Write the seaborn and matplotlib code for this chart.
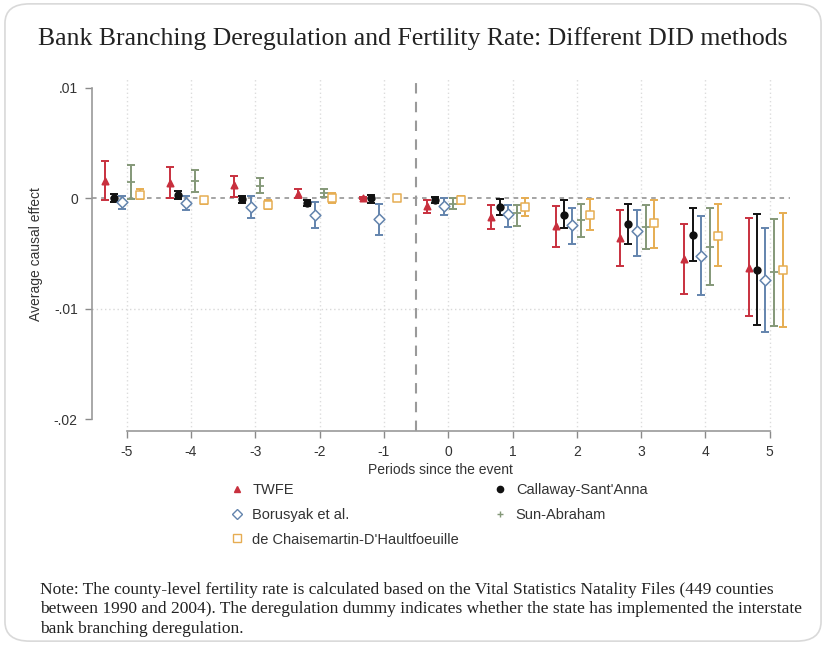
import numpy as np
import pandas as pd
import seaborn as sns
import matplotlib.pyplot as plt
from matplotlib.lines import Line2D
from matplotlib.patches import FancyBboxPatch

# event-time periods
periods = [-5, -4, -3, -2, -1, 0, 1, 2, 3, 4, 5]

# point estimates and 95% CI bounds
twfe_est = [0.0016, 0.0014, 0.0012, 0.0004, 0.0000, -0.0007, -0.0017, -0.0025, -0.0036, -0.0055, -0.0063]
twfe_lo = [-0.0002, 0.0000, 0.0001, 0.0000, -0.0001, -0.0013, -0.0028, -0.0044, -0.0061, -0.0087, -0.0107]
twfe_hi = [0.0034, 0.0028, 0.0020, 0.0008, 0.0001, -0.0002, -0.0006, -0.0007, -0.0011, -0.0023, -0.0018]

cs_est = [0.0000, 0.0003, -0.0001, -0.0004, 0.0000, -0.0002, -0.0008, -0.0015, -0.0023, -0.0033, -0.0065]
cs_lo = [-0.0003, -0.0001, -0.0004, -0.0007, -0.0004, -0.0004, -0.0015, -0.0027, -0.0041, -0.0057, -0.0115]
cs_hi = [0.0004, 0.0007, 0.0002, -0.0002, 0.0003, 0.0001, -0.0001, -0.0002, -0.0005, -0.0009, -0.0014]

bjs_est = [-0.0003, -0.0004, -0.0008, -0.0015, -0.0019, -0.0007, -0.0014, -0.0024, -0.0030, -0.0052, -0.0074]
bjs_lo = [-0.0010, -0.0011, -0.0018, -0.0027, -0.0033, -0.0015, -0.0026, -0.0041, -0.0052, -0.0088, -0.0121]
bjs_hi = [0.0002, 0.0002, 0.0002, -0.0003, -0.0005, 0.0000, -0.0006, -0.0009, -0.0011, -0.0016, -0.0027]

sa_est = [0.0015, 0.0016, 0.0011, 0.0005, np.nan, -0.0005, -0.0013, -0.0020, -0.0026, -0.0044, -0.0067]
sa_lo = [-0.0001, 0.0006, 0.0005, 0.0001, np.nan, -0.0010, -0.0025, -0.0035, -0.0046, -0.0079, -0.0116]
sa_hi = [0.0030, 0.0026, 0.0018, 0.0008, np.nan, 0.0000, -0.0006, -0.0005, -0.0006, -0.0009, -0.0019]

dcdh_est = [0.0003, -0.0002, -0.0006, 0.0000, 0.0000, -0.0002, -0.0008, -0.0015, -0.0022, -0.0034, -0.0065]
dcdh_lo = [-0.0001, -0.0005, -0.0010, -0.0004, -0.0002, -0.0005, -0.0016, -0.0029, -0.0045, -0.0061, -0.0117]
dcdh_hi = [0.0008, 0.0001, -0.0002, 0.0005, 0.0002, 0.0002, 0.0000, -0.0001, -0.0002, -0.0005, -0.0013]

y_ticks = [0.01, 0.0, -0.01, -0.02]
y_tick_labels = [".01", "0", "-.01", "-.02"]

series = {
    "TWFE": (twfe_est, twfe_lo, twfe_hi),
    "Callaway-Sant'Anna": (cs_est, cs_lo, cs_hi),
    "Borusyak et al.": (bjs_est, bjs_lo, bjs_hi),
    "Sun-Abraham": (sa_est, sa_lo, sa_hi),
    "de Chaisemartin-D'Haultfoeuille": (dcdh_est, dcdh_lo, dcdh_hi),
}

# marker styles and horizontal shifts for each estimator
styles = {
    "TWFE": dict(shift=-0.33, color="#c8303e", marker="^", s=20, hollow=False),
    "Callaway-Sant'Anna": dict(shift=-0.20, color="#111111", marker="o", s=22, hollow=False),
    "Borusyak et al.": dict(shift=-0.07, color="#6384ad", marker="D", s=30, hollow=True),
    "Sun-Abraham": dict(shift=0.07, color="#849878", marker="+", s=28, hollow=False),
    "de Chaisemartin-D'Haultfoeuille": dict(shift=0.20, color="#e6ad52", marker="s", s=40, hollow=True),
}

frames = []
for name, (est, lo, hi) in series.items():
    frames.append(pd.DataFrame({"period": periods, "method": name, "est": est, "lo": lo, "hi": hi}))
df = pd.concat(frames, ignore_index=True)
df["x"] = df["period"] + df["method"].map({k: v["shift"] for k, v in styles.items()})

sns.set_style("white")
plt.rcParams["font.family"] = ["Liberation Sans", "DejaVu Sans"]

fig = plt.figure(figsize=(8.26, 6.45), dpi=100)
ax = fig.add_axes([0.111, 0.332, 0.845, 0.548])

# reference lines and grid
ax.axhline(0, color="#8c8c8c", lw=1.1, ls=(0, (3, 3)), zorder=1)
ax.axhline(-0.01, color="#d8d8d8", lw=1.0, ls=(0, (1, 2)), zorder=0)
for p in periods:
    ax.axvline(p, color="#dcdcdc", lw=1.0, ls=(0, (1, 2)), zorder=0)
ax.axvline(-0.5, color="#9a9a9a", lw=1.5, ls=(0, (5, 4)), zorder=1)

for name, st in styles.items():
    sub = df[(df["method"] == name) & df["est"].notna()]
    ax.errorbar(sub["x"], sub["est"], yerr=[sub["est"] - sub["lo"], sub["hi"] - sub["est"]],
                fmt="none", ecolor=st["color"], elinewidth=1.4, capsize=3.2, capthick=1.4, zorder=2)
    if st["hollow"]:
        sns.scatterplot(data=sub, x="x", y="est", marker=st["marker"], s=st["s"], color=st["color"],
                        facecolor="white", edgecolor=st["color"], linewidth=1.1, ax=ax, zorder=3)
    else:
        sns.scatterplot(data=sub, x="x", y="est", marker=st["marker"], s=st["s"], color=st["color"],
                        edgecolor=st["color"], linewidth=1.3, ax=ax, zorder=3)

ax.set_xlim(-5.544, 5.31)
ax.set_ylim(-0.02106, 0.01094)
ax.set_xticks(periods)
ax.set_xticklabels([str(p) for p in periods])
ax.set_yticks(y_ticks)
ax.set_yticklabels(y_tick_labels)
ax.tick_params(axis="both", direction="out", length=5, width=1, color="#8a8a8a",
               labelsize=10, labelcolor="#333333", pad=5, left=True, bottom=True)
for side in ["top", "right"]:
    ax.spines[side].set_visible(False)
for side in ["left", "bottom"]:
    ax.spines[side].set_color("#9a9a9a")
    ax.spines[side].set_linewidth(1.2)
ax.spines["left"].set_bounds(-0.02, 0.01)
ax.spines["bottom"].set_bounds(-5, 5)
ax.set_xlabel("Periods since the event", fontsize=10, color="#333333", labelpad=3)
ax.set_ylabel("Average causal effect", fontsize=10, color="#333333", labelpad=8)

# legend, two columns like Stata
order = ["TWFE", "Borusyak et al.", "de Chaisemartin-D'Haultfoeuille", "Callaway-Sant'Anna", "Sun-Abraham"]
handles = []
for name in order:
    st = styles[name]
    handles.append(Line2D([], [], ls="none", marker=st["marker"], color=st["color"],
                          markerfacecolor="white" if st["hollow"] else st["color"],
                          markersize=4.5 if st["marker"] in "^o+" else 5.5, markeredgewidth=1.0))
fig.legend(handles, order, ncol=2, frameon=False, loc="upper left", bbox_to_anchor=(0.262, 0.272),
           fontsize=10.5, labelcolor="#333333", handlelength=1.0, handletextpad=0.55,
           columnspacing=2.35, labelspacing=0.75)

fig.text(0.5, 0.941, "Bank Branching Deregulation and Fertility Rate: Different DID methods",
         ha="center", va="center", family="Liberation Serif", fontsize=18.5, color="#222222")

note = ("Note: The county-level fertility rate is calculated based on the Vital Statistics Natality Files (449 counties\n"
        "between 1990 and 2004). The deregulation dummy indicates whether the state has implemented the interstate\n"
        "bank branching deregulation.")
fig.text(0.048, 0.098, note, ha="left", va="top", family="Liberation Serif", fontsize=12.5,
         color="#222222", linespacing=1.3)

frame = FancyBboxPatch((0.006, 0.006), 0.988, 0.988, boxstyle="round,pad=0,rounding_size=0.03",
                       transform=fig.transFigure, fill=False, edgecolor="#d9d9d9", lw=1.2)
fig.patches.append(frame)

fig.savefig("out.png", dpi=100)
